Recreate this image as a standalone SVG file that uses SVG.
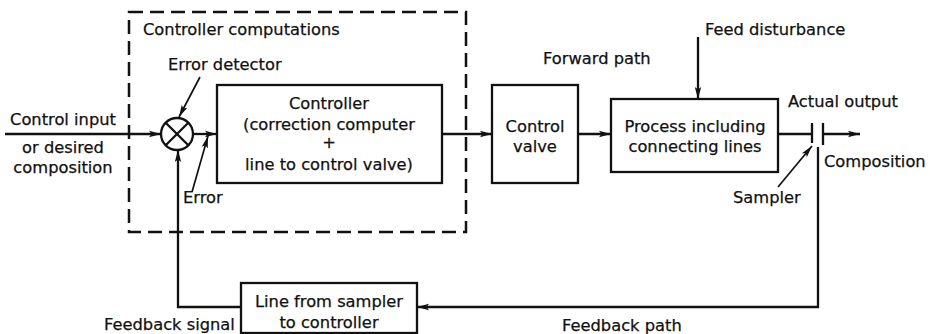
<svg xmlns="http://www.w3.org/2000/svg" width="930" height="334" viewBox="0 0 930 334">
  <style>
    text { font-family: "DejaVu Sans", "Liberation Sans", sans-serif; font-size: 16.3px; fill: #111; stroke: #111; stroke-width: 0.25; }
    .mid { text-anchor: middle; }
    .box { fill: none; stroke: #111; stroke-width: 2.3; }
    .wire { fill: none; stroke: #111; stroke-width: 2.3; }
    .thin { fill: none; stroke: #111; stroke-width: 1.7; }
    .dash { fill: none; stroke: #111; stroke-width: 2.5; stroke-dasharray: 14 7; }
  </style>
  <defs>
    <marker id="arrow" markerUnits="userSpaceOnUse" markerWidth="12" markerHeight="8" refX="12" refY="4" orient="auto">
      <path d="M0,0.8 L12,4 L0,7.2 L2.5,4 z" fill="#111"/>
    </marker>
  </defs>

  <rect width="930" height="334" fill="#fff"/>

  <!-- dashed boundary of the controller computations -->
  <g id="controller-computations">
    <rect class="dash" x="129" y="12" width="337" height="220"/>
    <text x="143" y="35">Controller computations</text>
  </g>

  <!-- summing junction -->
  <g id="error-detector">
    <circle class="box" cx="177" cy="134" r="16"/>
    <line class="wire" x1="165.7" y1="122.7" x2="188.3" y2="145.3"/>
    <line class="wire" x1="188.3" y1="122.7" x2="165.7" y2="145.3"/>
  </g>

  <g id="controller">
    <rect class="box" x="217" y="85" width="225" height="98"/>
    <text class="mid" x="329" y="109">Controller</text>
    <text class="mid" x="329" y="130">(correction computer</text>
    <text class="mid" x="329" y="148">+</text>
    <text class="mid" x="329" y="170">line to control valve)</text>
  </g>

  <g id="control-valve">
    <rect class="box" x="492" y="85" width="86" height="98"/>
    <text class="mid" x="535" y="132">Control</text>
    <text class="mid" x="535" y="152">valve</text>
  </g>

  <g id="process">
    <rect class="box" x="611" y="99" width="167" height="73"/>
    <text class="mid" x="695" y="132">Process including</text>
    <text class="mid" x="695" y="152">connecting lines</text>
  </g>

  <g id="feedback-line">
    <rect class="box" x="241" y="283" width="176" height="50"/>
    <text class="mid" x="329" y="307">Line from sampler</text>
    <text class="mid" x="329" y="328">to controller</text>
  </g>

  <!-- sampler contacts -->
  <g id="sampler">
    <line class="wire" x1="812" y1="123" x2="812" y2="143"/>
    <line class="wire" x1="823" y1="123" x2="823" y2="145"/>
  </g>

  <g id="connectors">
    <line class="wire" x1="5" y1="134" x2="161" y2="134" marker-end="url(#arrow)"/>
    <line class="wire" x1="193" y1="134" x2="217" y2="134" marker-end="url(#arrow)"/>
    <line class="wire" x1="442" y1="134" x2="492" y2="134" marker-end="url(#arrow)"/>
    <line class="wire" x1="578" y1="134" x2="611" y2="134" marker-end="url(#arrow)"/>
    <line class="wire" x1="778" y1="134" x2="812" y2="134"/>
    <line class="wire" x1="823" y1="134" x2="860" y2="134" marker-end="url(#arrow)"/>
    <line class="wire" x1="698" y1="37" x2="698" y2="99" marker-end="url(#arrow)"/>
    <polyline class="wire" points="818,147 818,307 417,307" marker-end="url(#arrow)"/>
    <polyline class="wire" points="241,307 178,307 178,150" marker-end="url(#arrow)"/>
    <!-- label pointers -->
    <line class="thin" x1="200" y1="77" x2="179" y2="117" marker-end="url(#arrow)"/>
    <line class="thin" x1="192" y1="192" x2="208" y2="136" marker-end="url(#arrow)"/>
    <line class="thin" x1="778" y1="187" x2="812" y2="146" marker-end="url(#arrow)"/>
  </g>

  <g id="labels">
    <text x="168" y="70">Error detector</text>
    <text class="mid" x="63" y="125">Control input</text>
    <text class="mid" x="63" y="153">or desired</text>
    <text class="mid" x="63" y="173">composition</text>
    <text x="183" y="203">Error</text>
    <text x="543" y="64">Forward path</text>
    <text x="705" y="35">Feed disturbance</text>
    <text x="788" y="107">Actual output</text>
    <text x="824" y="167">Composition</text>
    <text x="733" y="203">Sampler</text>
    <text x="104" y="330">Feedback signal</text>
    <text x="562" y="331">Feedback path</text>
  </g>
</svg>
